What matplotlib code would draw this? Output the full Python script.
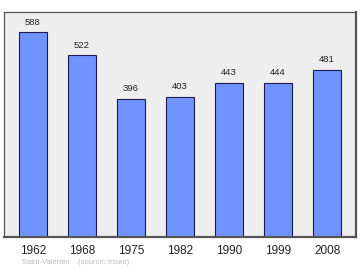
import matplotlib
matplotlib.use("Agg")
import matplotlib.pyplot as plt

plt.rcParams["font.family"] = ["Liberation Sans", "DejaVu Sans"]

years = ["1962", "1968", "1975", "1982", "1990", "1999", "2008"]
population = [588, 522, 396, 403, 443, 444, 481]
footer = "Saint-Valérien    (source: Insee)"

fig = plt.figure(figsize=(3.6, 2.7), dpi=100)
ax = fig.add_axes([4/360, 1 - 237/270, 352/360, 225/270])
ax.set_facecolor("#eeeeee")
x = list(range(len(years)))
ax.bar(x, population, width=0.57, color="#7094ff", edgecolor="#1a1a50", linewidth=0.8, zorder=2)
for xi, v in zip(x, population):
    ax.text(xi, v + 17, str(v), ha="center", va="bottom", fontsize=6.8, color="#222222")
ax.set_xlim(-0.59, 6.59)
ax.set_ylim(0, max(population) * 1.1)
ax.set_yticks([])
ax.set_xticks(x)
ax.set_xticklabels(years, fontsize=8.5, color="#222222")
ax.tick_params(axis="x", length=0, pad=6)
for s in ax.spines.values():
    s.set_color("#555555")
    s.set_linewidth(0.9)
ax.spines["right"].set_linewidth(1.6)
ax.spines["bottom"].set_linewidth(1.6)
fig.text(22/360, 1 - 263/270, footer, fontsize=5.5, color="#bbbbbb", va="center")
fig.savefig("out.png", dpi=100)
